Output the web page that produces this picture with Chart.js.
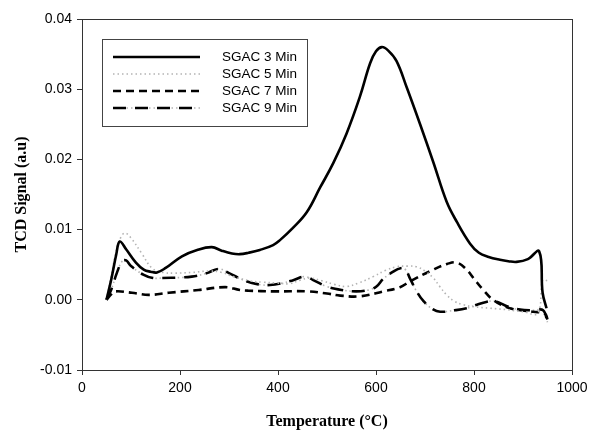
<!DOCTYPE html>
<html>
<head>
<meta charset="utf-8">
<script src="https://cdn.jsdelivr.net/npm/chart.js@4"></script>
<style>
html,body{margin:0;padding:0;background:#fff;}
#wrap{width:589px;height:430px;}
</style>
</head>
<body>
<div id="wrap"><canvas id="c" width="589" height="430"></canvas></div>
<script>
const seriesNames = ["SGAC 3 Min", "SGAC 5 Min", "SGAC 7 Min", "SGAC 9 Min"];
const xTickValues = [0, 200, 400, 600, 800, 1000];
const yTickValues = [-0.01, 0.00, 0.01, 0.02, 0.03, 0.04];

const temp3 = [50,60,70,77,90,110,126,140,153,170,204,235,265,285,306,322,340,363,390,404,430,459,486,513,540,567,588,600,612,625,642,663,690,717,744,765,792,810,830,853,870,887,910,933,940,948];
const sig3  = [0.0000,0.0030,0.0065,0.0083,0.0072,0.0053,0.0043,0.0040,0.0039,0.0045,0.0062,0.0071,0.0075,0.0070,0.0066,0.0065,0.0067,0.0071,0.0078,0.0085,0.0102,0.0125,0.0160,0.0195,0.0237,0.0289,0.0337,0.0354,0.0360,0.0355,0.0340,0.0302,0.0250,0.0196,0.0140,0.0111,0.0080,0.0067,0.0061,0.0057,0.0055,0.0054,0.0058,0.0069,0.0010,-0.0012];

const temp5 = [50,60,70,80,88,100,122,143,165,190,225,259,285,309,343,370,397,424,445,465,490,515,540,565,594,620,642,665,683,700,717,730,744,760,778,800,833,865,901,930,940,950];
const sig5  = [0.0000,0.0035,0.0070,0.0090,0.0095,0.0088,0.0066,0.0045,0.0039,0.0038,0.0039,0.0041,0.0039,0.0033,0.0027,0.0025,0.0024,0.0023,0.0028,0.0031,0.0027,0.0022,0.0019,0.0024,0.0033,0.0042,0.0047,0.0048,0.0047,0.0041,0.0031,0.0019,0.0007,-0.0002,-0.0007,-0.0010,-0.0012,-0.0014,-0.0017,-0.0019,0.0028,0.0027];

const temp7 = [50,60,68,102,136,177,238,292,322,340,390,459,500,527,567,615,649,669,717,745,765,785,800,819,839,873,921,945,950];
const sig7  = [0.0000,0.0008,0.0012,0.0010,0.0007,0.0010,0.0014,0.0018,0.0014,0.0013,0.0012,0.0012,0.0009,0.0006,0.0005,0.0012,0.0018,0.0026,0.0043,0.0051,0.0053,0.0043,0.0030,0.0014,0.0000,-0.0012,-0.0017,-0.0020,-0.0028];

const temp9 = [50,60,71,82,90,100,125,145,163,224,255,279,300,333,360,384,410,431,455,475,499,530,560,585,601,615,635,650,660,669,683,697,715,731,760,785,806,825,843,870,894,920,941,950];
const sig9  = [0.0000,0.0015,0.0038,0.0055,0.0056,0.0048,0.0036,0.0031,0.0031,0.0033,0.0038,0.0044,0.0038,0.0027,0.0022,0.0021,0.0024,0.0028,0.0033,0.0027,0.0019,0.0014,0.0012,0.0014,0.0019,0.0030,0.0040,0.0045,0.0043,0.0031,0.0012,-0.0002,-0.0013,-0.0017,-0.0015,-0.0012,-0.0007,-0.0003,-0.0002,-0.0010,-0.0014,-0.0015,-0.0015,-0.0032];

function pts(xs, ys){ return xs.map((x,i)=>({x:x, y:ys[i]})); }

const styles = [
  {color:'#000000', width:2.6, dash:[]},
  {color:'#b4b4b4', width:1.6, dash:[1.5,3]},
  {color:'#000000', width:2.6, dash:[8,5]},
  {color:'#000000', width:2.6, dash:[13,9]}
];
const seriesData = [pts(temp3,sig3), pts(temp5,sig5), pts(temp7,sig7), pts(temp9,sig9)];

const datasets = seriesNames.map((n,i)=>({
  label:n,
  data:seriesData[i],
  borderColor:styles[i].color,
  borderWidth:styles[i].width,
  borderDash:styles[i].dash,
  pointRadius:0,
  fill:false,
  showLine:true,
  tension:0.4,
  order:1
}));
// light dotted underlay of the 9 Min series (dash-dot-dot look)
datasets.push({
  label:'SGAC 9 Min (dots)',
  data:seriesData[3],
  borderColor:'#b4b4b4',
  borderWidth:1.6,
  borderDash:[1.5,3],
  pointRadius:0,
  fill:false,
  showLine:true,
  tension:0.4,
  order:2,
  isUnderlay:true
});

const framePlugin = {
  id:'frame',
  afterDatasetsDraw(chart){
    const ctx = chart.ctx, a = chart.chartArea;
    ctx.save();
    ctx.strokeStyle = '#333';
    ctx.lineWidth = 1;
    ctx.setLineDash([]);
    ctx.strokeRect(Math.round(a.left)+0.5, Math.round(a.top)+0.5, Math.round(a.right-a.left), Math.round(a.bottom-a.top));
    // legend box
    const bx = 102.5, by = 39.5, bw = 205, bh = 87;
    ctx.fillStyle = '#fff';
    ctx.fillRect(bx, by, bw, bh);
    ctx.strokeStyle = '#444';
    ctx.strokeRect(bx, by, bw, bh);
    const rows = [57, 74, 91, 108];
    chart.data.datasets.forEach((ds,i)=>{
      if (ds.isUnderlay) return;
      const y = rows[i];
      if (i === 3) {
        ctx.strokeStyle = '#b4b4b4';
        ctx.lineWidth = 1.6;
        ctx.setLineDash([1.5,3]);
        ctx.beginPath(); ctx.moveTo(113, y); ctx.lineTo(200, y); ctx.stroke();
      }
      ctx.strokeStyle = ds.borderColor;
      ctx.lineWidth = ds.borderWidth;
      ctx.setLineDash(ds.borderDash || []);
      ctx.beginPath();
      ctx.moveTo(113, y);
      ctx.lineTo(200, y);
      ctx.stroke();
      ctx.setLineDash([]);
      ctx.fillStyle = '#000';
      ctx.font = '13.5px "Liberation Sans", Arial, sans-serif';
      ctx.textBaseline = 'middle';
      ctx.textAlign = 'left';
      ctx.fillText(ds.label, 222, y);
    });
    ctx.restore();
  }
};

new Chart(document.getElementById('c'), {
  type:'scatter',
  data:{datasets:datasets},
  plugins:[framePlugin],
  options:{
    responsive:false,
    animation:false,
    devicePixelRatio:1,
    layout:{padding:{top:19, right:17, left:0, bottom:0}},
    plugins:{legend:{display:false}, tooltip:{enabled:false}},
    scales:{
      x:{
        type:'linear', min:0, max:1000,
        afterFit(s){ s.height = 60; s.paddingLeft = 0; s.paddingRight = 0; },
        afterBuildTicks(s){ s.ticks = xTickValues.map(v=>({value:v})); },
        border:{display:false},
        grid:{drawOnChartArea:false, drawTicks:true, tickLength:5, color:'#333', lineWidth:1},
        ticks:{color:'#000', padding:5, font:{family:'"Liberation Sans", Arial, sans-serif', size:14}, maxRotation:0, callback:v=>String(v)},
        title:{display:true, text:'Temperature (\u00B0C)', color:'#000', padding:{top:0,bottom:0}, font:{family:'"Liberation Serif", "Times New Roman", serif', size:16, weight:'bold', lineHeight:1}}
      },
      y:{
        type:'linear', min:-0.01, max:0.04,
        afterFit(s){ s.width = 82; s.paddingTop = 0; s.paddingBottom = 0; },
        afterBuildTicks(s){ s.ticks = yTickValues.map(v=>({value:v})); },
        border:{display:false},
        grid:{drawOnChartArea:false, drawTicks:true, tickLength:5, color:'#333', lineWidth:1},
        ticks:{color:'#000', padding:5, font:{family:'"Liberation Sans", Arial, sans-serif', size:14}, callback:v=>Number(v).toFixed(2)},
        title:{display:true, text:'TCD Signal (a.u)', color:'#000', padding:{top:14,bottom:0}, font:{family:'"Liberation Serif", "Times New Roman", serif', size:16, weight:'bold', lineHeight:1}}
      }
    }
  }
});
</script>
</body>
</html>
